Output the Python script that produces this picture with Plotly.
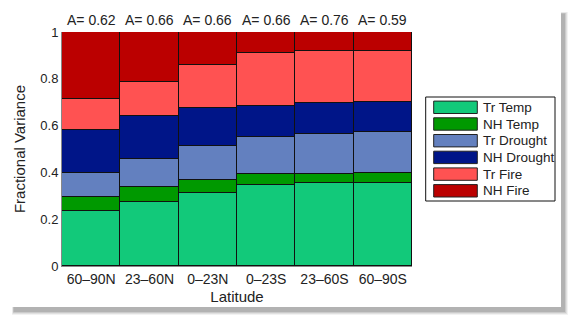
import plotly.graph_objects as go

categories = ["60–90N", "23–60N", "0–23N", "0–23S", "23–60S", "60–90S"]
a_values = ["0.62", "0.66", "0.66", "0.66", "0.76", "0.59"]
series_names = ["Tr Temp", "NH Temp", "Tr Drought", "NH Drought", "Tr Fire", "NH Fire"]
tr_temp = [0.234, 0.272, 0.311, 0.347, 0.354, 0.355]
nh_temp = [0.063, 0.066, 0.056, 0.045, 0.041, 0.042]
tr_drought = [0.102, 0.120, 0.144, 0.161, 0.171, 0.175]
nh_drought = [0.184, 0.181, 0.164, 0.129, 0.130, 0.130]
tr_fire = [0.129, 0.148, 0.182, 0.228, 0.221, 0.215]
nh_fire = [0.288, 0.213, 0.143, 0.090, 0.083, 0.083]
series_values = [tr_temp, nh_temp, tr_drought, nh_drought, tr_fire, nh_fire]
colors = ["#12C97A", "#009900", "#6380BF", "#001588", "#FF5252", "#BB0000"]

W, H = 580, 326
L, R, T, B = 62, 168, 32, 60
pw, ph = W - L - R, H - T - B

def px(x):
    return (x - L) / pw

def py(y):
    return (H - B - y) / ph

fig = go.Figure()
for name, vals, col in zip(series_names, series_values, colors):
    fig.add_trace(go.Bar(x=categories, y=vals, name=name, marker_color=col,
                         marker_line_color="#111111", marker_line_width=1.2,
                         showlegend=False))

font = "Liberation Sans, Arial, sans-serif"
shapes = []
# card shadow
for i, op in enumerate([0.05, 0.07, 0.09, 0.12]):
    g = 4 - i
    shapes.append(dict(type="rect", xref="paper", yref="paper", layer="below",
                       x0=px(11 + 3 - g * 0.5), x1=px(561 + 3 + g),
                       y0=py(307 + 4 + g), y1=py(10 + 4 - g * 0.5),
                       line_width=0, fillcolor=f"rgba(0,0,0,{op})"))
shapes.append(dict(type="rect", xref="paper", yref="paper", layer="below",
                   x0=px(11), x1=px(561), y0=py(307), y1=py(10),
                   line_width=0, fillcolor="white"))

annotations = []
for c, a in zip(categories, a_values):
    annotations.append(dict(x=c, y=1, xref="x", yref="paper", text=f"A= {a}",
                            showarrow=False, yanchor="bottom", yshift=2,
                            font=dict(family=font, size=14, color="#222222")))

# legend
shapes.append(dict(type="rect", xref="paper", yref="paper",
                   x0=px(425.7), x1=px(555), y0=py(201), y1=py(97),
                   line=dict(color="#111111", width=1), fillcolor="white"))
for i, (name, col) in enumerate(zip(series_names, colors)):
    cy = 107.3 + i * 16.7
    shapes.append(dict(type="rect", xref="paper", yref="paper",
                       x0=px(433.7), x1=px(477.3), y0=py(cy + 6.2), y1=py(cy - 6.2),
                       line=dict(color="#222222", width=1), fillcolor=col))
    annotations.append(dict(x=px(481), y=py(cy), xref="paper", yref="paper",
                            text=name, showarrow=False, xanchor="left", yanchor="middle",
                            font=dict(family=font, size=13.5, color="#222222")))

fig.update_layout(
    width=W, height=H,
    margin=dict(l=L, r=R, t=T, b=B),
    barmode="stack", bargap=0,
    paper_bgcolor="white", plot_bgcolor="rgba(0,0,0,0)",
    shapes=shapes, annotations=annotations,
    font=dict(family=font, size=13, color="#222222"),
)
fig.update_xaxes(title=dict(text="Latitude", font=dict(size=15), standoff=5),
                 showgrid=False, ticks="", showline=True, linecolor="#888888",
                 tickfont=dict(size=14))
fig.update_yaxes(title=dict(text="Fractional Variance", font=dict(size=15), standoff=11),
                 range=[0, 1], tickvals=[0, 0.2, 0.4, 0.6, 0.8, 1],
                 ticktext=["0", "0.2", "0.4", "0.6", "0.8", "1"],
                 showgrid=False, zeroline=False, ticks="", showline=True,
                 linecolor="#888888", tickfont=dict(size=13))

fig.write_html("out.html")
